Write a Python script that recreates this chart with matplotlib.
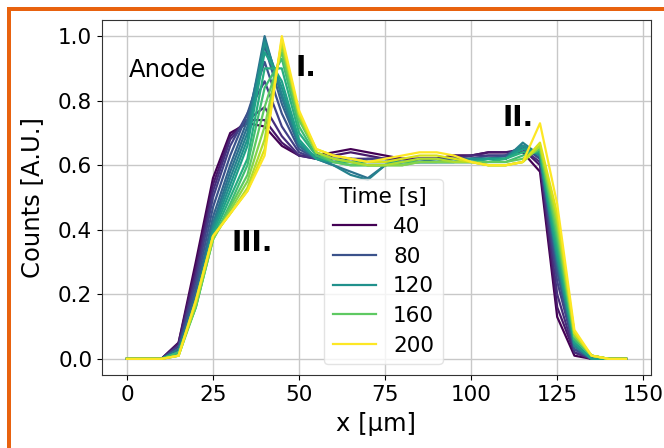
import numpy as np
import matplotlib.pyplot as plt
from matplotlib.patches import Rectangle
from matplotlib.lines import Line2D

# Line-scan positions (um) and scan times (s)
x_um = np.arange(0, 150, 5)
times = [40, 50, 60, 70, 80, 90, 100, 110, 120, 130, 140, 150, 160, 170, 180, 190, 200]

# Normalised counts, one row per scan time
counts = [
    [0, 0, 0, .05, .30, .56, .70, .73, .72, .66, .63, .63, .64, .65, .64, .63, .62, .62, .62, .63, .63, .64, .64, .64, .58, .13, .01, 0, 0, 0],
    [0, 0, 0, .05, .28, .54, .69, .74, .74, .67, .63, .62, .63, .64, .63, .62, .62, .62, .62, .63, .63, .64, .64, .65, .60, .16, .02, 0, 0, 0],
    [0, 0, 0, .04, .26, .52, .68, .74, .78, .69, .63, .62, .62, .62, .62, .62, .61, .62, .62, .62, .63, .63, .63, .65, .61, .20, .02, 0, 0, 0],
    [0, 0, 0, .04, .24, .50, .66, .76, .86, .72, .64, .62, .62, .61, .62, .62, .61, .62, .62, .62, .62, .63, .63, .66, .62, .24, .03, 0, 0, 0],
    [0, 0, 0, .03, .22, .47, .63, .76, .92, .76, .65, .62, .62, .62, .61, .61, .61, .61, .62, .62, .62, .62, .63, .66, .62, .27, .03, 0, 0, 0],
    [0, 0, 0, .03, .20, .44, .60, .74, .97, .79, .66, .62, .61, .62, .61, .61, .61, .61, .61, .62, .62, .62, .62, .66, .63, .29, .04, 0, 0, 0],
    [0, 0, 0, .03, .19, .42, .58, .72, 1.0, .81, .66, .62, .60, .58, .56, .60, .61, .61, .61, .61, .62, .62, .62, .66, .63, .30, .04, 0, 0, 0],
    [0, 0, 0, .02, .18, .41, .56, .70, .99, .82, .67, .62, .60, .57, .555, .60, .61, .61, .61, .61, .61, .62, .62, .67, .63, .31, .04, 0, 0, 0],
    [0, 0, 0, .02, .17, .40, .54, .68, .98, .84, .67, .62, .61, .61, .61, .61, .61, .61, .61, .61, .62, .62, .62, .66, .63, .32, .05, 0, 0, 0],
    [0, 0, 0, .02, .17, .39, .52, .66, .95, .86, .68, .62, .61, .61, .61, .61, .61, .61, .61, .61, .61, .62, .62, .65, .64, .33, .05, 0, 0, 0],
    [0, 0, 0, .02, .16, .38, .50, .62, .90, .90, .70, .63, .61, .61, .60, .60, .61, .61, .61, .61, .61, .61, .62, .64, .64, .35, .06, .01, 0, 0],
    [0, 0, 0, .02, .16, .37, .48, .60, .84, .93, .72, .63, .61, .60, .60, .60, .61, .61, .61, .61, .61, .61, .61, .63, .65, .37, .06, .01, 0, 0],
    [0, 0, 0, .01, .16, .37, .47, .57, .78, .95, .74, .64, .61, .60, .60, .60, .60, .61, .61, .61, .61, .61, .61, .62, .65, .39, .07, .01, 0, 0],
    [0, 0, 0, .01, .17, .37, .46, .55, .72, .97, .75, .64, .62, .61, .60, .60, .60, .61, .61, .61, .61, .60, .60, .61, .66, .41, .07, .01, 0, 0],
    [0, 0, 0, .01, .17, .38, .45, .53, .68, .98, .76, .64, .62, .61, .60, .60, .61, .62, .62, .61, .61, .60, .60, .61, .66, .43, .08, .01, 0, 0],
    [0, 0, 0, .01, .18, .38, .45, .52, .65, .99, .76, .65, .63, .62, .61, .61, .62, .63, .63, .62, .61, .60, .60, .61, .67, .45, .08, .01, 0, 0],
    [0, 0, 0, .01, .18, .38, .45, .52, .63, 1.0, .77, .65, .63, .62, .61, .62, .63, .64, .64, .63, .61, .60, .60, .61, .73, .48, .09, .01, 0, 0],
]
legend_times = [40, 80, 120, 160, 200]

plt.rcParams['font.family'] = 'DejaVu Sans'
plt.rcParams['font.size'] = 15.5

fig = plt.figure(figsize=(6.64, 4.48), dpi=100)
ax = fig.add_axes([0.1536, 0.1629, 0.8268, 0.7925])

cmap = plt.get_cmap('viridis')
norm = plt.Normalize(min(times), max(times))
for t, row in zip(times, counts):
    ax.plot(x_um, row, color=cmap(norm(t)), lw=1.6)

ax.set_xticks([0, 25, 50, 75, 100, 125, 150])
ax.set_yticks([0.0, 0.2, 0.4, 0.6, 0.8, 1.0])
ax.tick_params(labelsize=15.5)
ax.grid(True, color='#c8c8c8', lw=1.0)
ax.set_axisbelow(True)
ax.set_xlabel('x [µm]', fontsize=17.5, labelpad=5)
ax.set_ylabel('Counts [A.U.]', fontsize=17.5, labelpad=10)
for s in ax.spines.values():
    s.set_color('#333333')

ax.text(0.5, 0.895, 'Anode', fontsize=17.5, ha='left', va='center')
ax.text(52, 0.90, 'I.', fontsize=20, fontweight='bold', ha='center', va='center')
ax.text(113.5, 0.745, 'II.', fontsize=20, fontweight='bold', ha='center', va='center')
ax.text(36.5, 0.36, 'III.', fontsize=20, fontweight='bold', ha='center', va='center')

handles = [Line2D([], [], color=cmap(norm(t)), lw=1.6) for t in legend_times]
ax.legend(handles, [str(t) for t in legend_times], title='Time [s]',
          loc='lower left', bbox_to_anchor=(0.385, 0.0), fontsize=15.5,
          title_fontsize=15.5, framealpha=0.8, edgecolor='#dddddd',
          labelspacing=0.45, borderpad=0.4)

# orange frame along the top and left edges
fig.add_artist(Rectangle((7 / 664, 0), 4 / 664, 1 - 7 / 448, transform=fig.transFigure,
                         color='#e8620f', lw=0))
fig.add_artist(Rectangle((7 / 664, 1 - 11 / 448), 1, 4 / 448, transform=fig.transFigure,
                         color='#e8620f', lw=0))

fig.savefig('out.png', dpi=100)
